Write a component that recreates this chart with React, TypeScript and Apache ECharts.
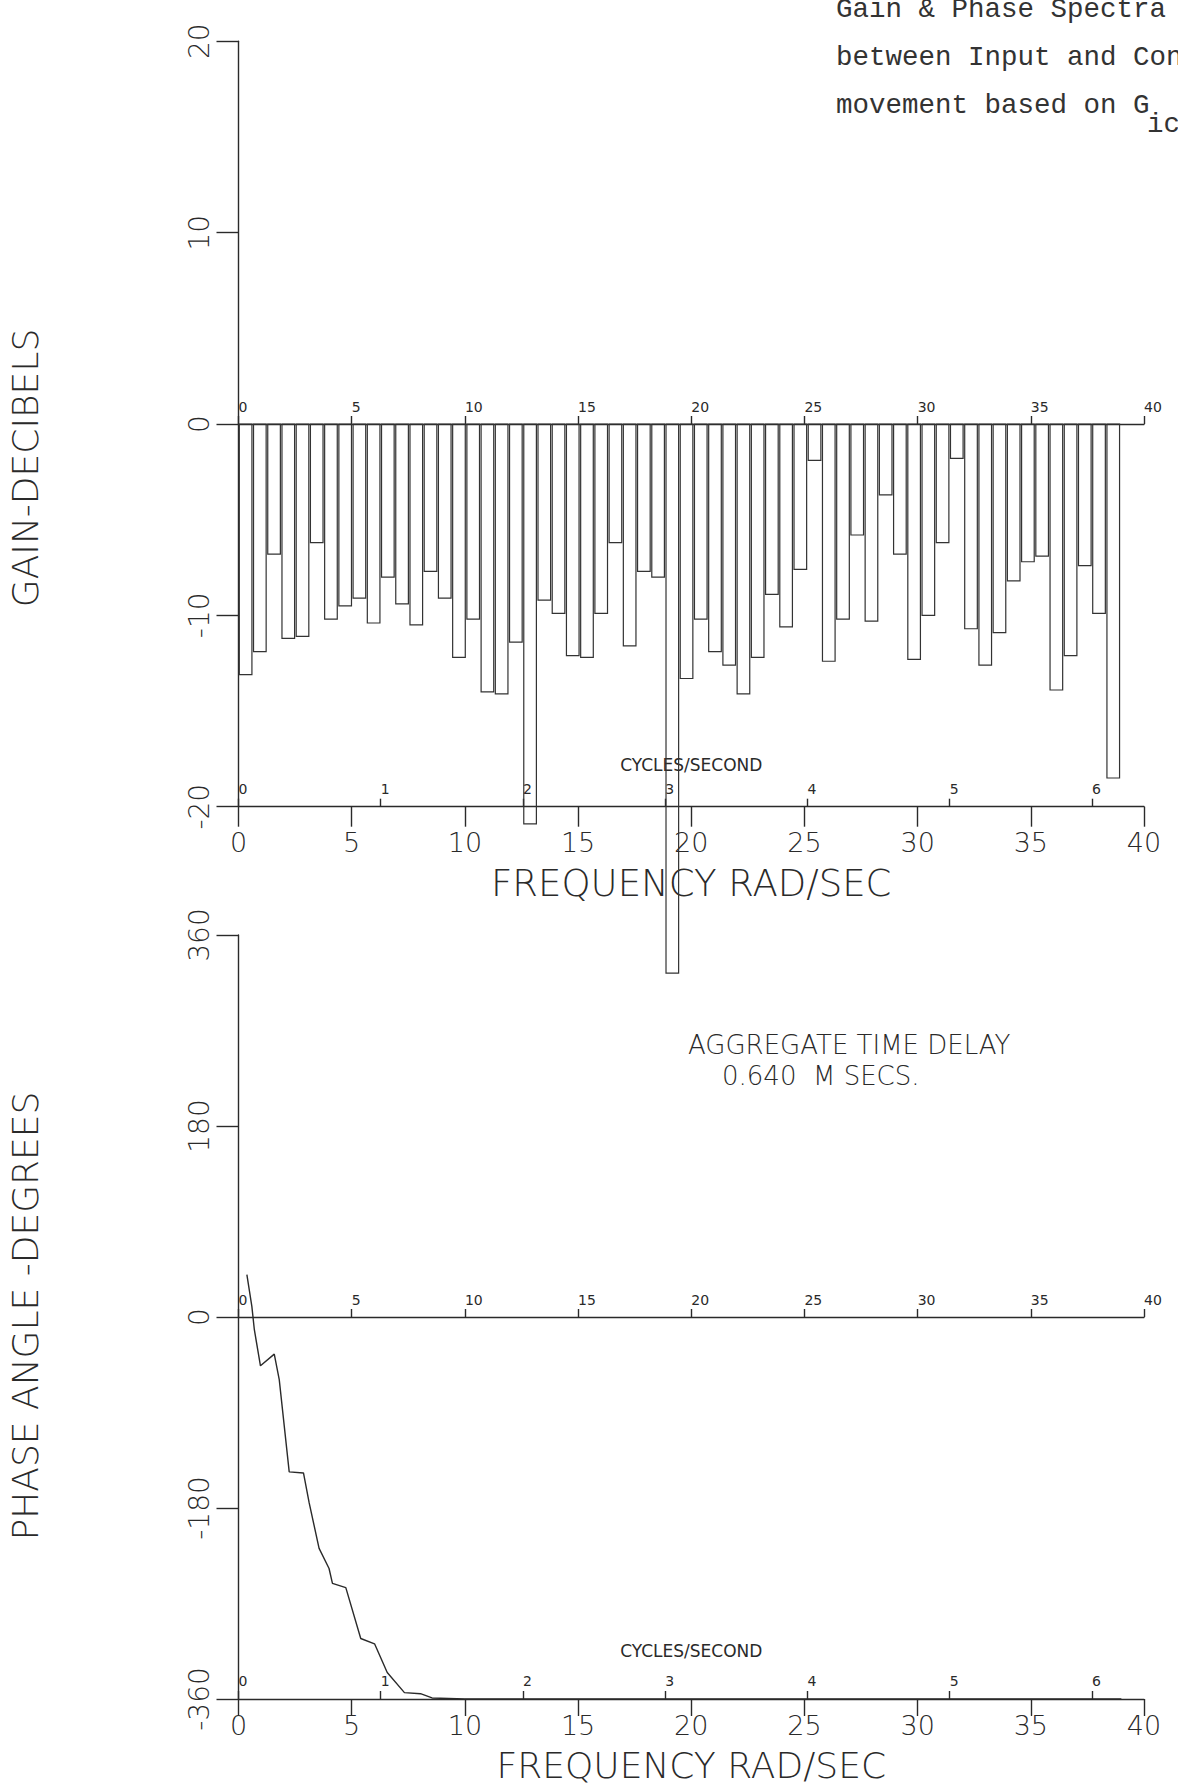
import React, { useEffect, useRef } from "react";
import * as echarts from "echarts";

// ---------- data ----------
const TWO_PI = 2 * Math.PI;
const BIN_HZ = 0.1; // each gain bar spans 0.1 Hz
const FREQ_MAX = 40; // rad/sec

// Gain (dB) per 0.1 Hz bin, starting at 0 Hz
const gainDb = [
  -13.1, -11.9, -6.8, -11.2, -11.1, -6.2, -10.2, -9.5, -9.1, -10.4,
  -8.0, -9.4, -10.5, -7.7, -9.1, -12.2, -10.2, -14.0, -14.1, -11.4,
  -20.9, -9.2, -9.9, -12.1, -12.2, -9.9, -6.2, -11.6, -7.7, -8.0,
  -28.7, -13.3, -10.2, -11.9, -12.6, -14.1, -12.2, -8.9, -10.6, -7.6,
  -1.9, -12.4, -10.2, -5.8, -10.3, -3.7, -6.8, -12.3, -10.0, -6.2,
  -1.8, -10.7, -12.6, -10.9, -8.2, -7.2, -6.9, -13.9, -12.1, -7.4,
  -9.9, -18.5,
];

// Phase curve (rad/sec, degrees)
const phaseFreq = [0.37, 0.59, 0.7, 0.97, 1.58, 1.8, 2.24, 2.87, 3.12, 3.56, 4.0, 4.15, 4.74, 5.4, 6.01, 6.57, 7.33, 8.04, 8.55, 10, 20, 30, 39];
const phaseDeg = [40, 10, -12, -46, -35, -59, -146, -147, -175, -218, -237, -251, -255, -303, -308, -335, -354, -355, -359, -360, -360, -360, -360];

const cycleTicks = [0, 1, 2, 3, 4, 5, 6];
const gainRange = [-20, 20, 10];
const phaseRange = [-360, 360, 180];

const TITLE_LINES = ["Gain & Phase Spectra", "between Input and Con", "movement based on G"];
const TITLE_SUB = "ic";
const DELAY_LINES = ["AGGREGATE TIME DELAY", "0.640  M SECS."];
const X_NAME = "FREQUENCY RAD/SEC";
const HZ_NAME = "CYCLES/SECOND";
const GAIN_NAME = "GAIN-DECIBELS";
const PHASE_NAME = "PHASE ANGLE -DEGREES";

// ---------- style ----------
const INK = "#2a2a2a";
const FONT = "'DejaVu Sans', sans-serif";
const MONO = "'Liberation Mono', 'DejaVu Sans Mono', monospace";
const LS = { color: INK, width: 1.4 };

const G0 = { top: 41.3, height: 765.4 };
const G1 = { top: 935, height: 764 };

function mainX(gridIndex: number, labelMargin: number, nameGap: number, tickLen: number, nameSize: number) {
  return {
    type: "value", gridIndex, min: 0, max: FREQ_MAX, interval: 5, position: "bottom",
    axisLine: { show: true, onZero: false, lineStyle: LS },
    axisTick: { show: true, inside: false, length: tickLen, lineStyle: LS },
    axisLabel: { show: true, margin: labelMargin, fontSize: 27, lineHeight: 32, color: INK, fontFamily: FONT, fontWeight: 200 },
    splitLine: { show: false },
    name: X_NAME, nameLocation: "middle", nameGap, nameMoveOverlap: false,
    nameTextStyle: { fontSize: nameSize, lineHeight: Math.round(nameSize * 1.2), color: INK, fontFamily: FONT, fontWeight: 200 },
  };
}
// axis drawn along the zero line (half way down the grid)
function zeroX(gridIndex: number, halfHeight: number) {
  return {
    type: "value", gridIndex, min: 0, max: FREQ_MAX, interval: 5, position: "top", offset: -halfHeight,
    axisLine: { show: true, onZero: false, lineStyle: LS },
    axisTick: { show: true, inside: false, length: 8, lineStyle: LS },
    axisLabel: { show: true, margin: 10, fontSize: 14, align: "left", color: INK, fontFamily: FONT },
    splitLine: { show: false },
  };
}
function hzX(gridIndex: number, nameGap: number) {
  return {
    type: "value", gridIndex, min: 0, max: FREQ_MAX / TWO_PI, position: "bottom",
    axisLine: { show: false, onZero: false },
    axisTick: { show: true, inside: true, length: 8, customValues: cycleTicks, lineStyle: LS },
    axisLabel: { show: true, inside: true, margin: 11, fontSize: 14, align: "left", customValues: cycleTicks, color: INK, fontFamily: FONT },
    splitLine: { show: false },
    name: HZ_NAME, nameLocation: "middle", nameGap, nameMoveOverlap: false,
    nameTextStyle: { fontSize: 17, color: INK, fontFamily: FONT },
  };
}
function yAx(gridIndex: number, r: number[]) {
  return {
    type: "value", gridIndex, min: r[0], max: r[1], interval: r[2], position: "left",
    axisLine: { show: true, onZero: false, lineStyle: LS },
    axisTick: { show: true, inside: false, length: 22, lineStyle: LS },
    axisLabel: { show: true, rotate: 90, margin: 25, fontSize: 28, color: INK, fontFamily: FONT, fontWeight: 200 },
    splitLine: { show: false },
  };
}

export default function App() {
  const ref = useRef<HTMLDivElement>(null);
  useEffect(() => {
    const chart = echarts.init(ref.current as HTMLDivElement, null, { renderer: "svg" });
    const bars = gainDb.map((v, i) => [i * BIN_HZ * TWO_PI, (i + 1) * BIN_HZ * TWO_PI, v]);
    const phase = phaseFreq.map((f, i) => [f, phaseDeg[i]]);
    const option: any = {
      animation: false,
      backgroundColor: "#fff",
      grid: [
        { left: 238.5, right: 34, top: G0.top, height: G0.height, containLabel: false, outerBoundsMode: "none" },
        { left: 238.5, right: 34, top: G1.top, height: G1.height, containLabel: false, outerBoundsMode: "none" },
      ],
      xAxis: [
        mainX(0, 20, 55, 20, 37), zeroX(0, G0.height / 2), hzX(0, -50),
        mainX(1, 10, 44.5, 17, 36), zeroX(1, G1.height / 2), hzX(1, -57),
      ],
      yAxis: [yAx(0, gainRange), yAx(1, phaseRange)],
      series: [
        {
          type: "custom", xAxisIndex: 0, yAxisIndex: 0, clip: false,
          encode: { x: [0, 1], y: 2 },
          data: bars,
          renderItem: (params: any, api: any) => {
            const a = api.coord([api.value(0), 0]);
            const b = api.coord([api.value(1), api.value(2)]);
            return {
              type: "rect",
              shape: { x: a[0] + 0.8, y: Math.min(a[1], b[1]), width: b[0] - a[0] - 1.6, height: Math.abs(b[1] - a[1]) },
              style: { fill: "none", stroke: "#333", lineWidth: 1.2 },
            };
          },
        },
        {
          type: "line", xAxisIndex: 3, yAxisIndex: 1, data: phase, showSymbol: false, symbol: "none",
          lineStyle: { color: INK, width: 1.4 }, clip: false,
        },
      ],
      graphic: [
        ...TITLE_LINES.map((t, i) => ({
          type: "text", x: 836, y: [9, 57, 105][i],
          style: { text: t, fontSize: 27.5, fontFamily: MONO, fill: "#333", align: "left", verticalAlign: "middle" },
        })),
        { type: "text", x: 1147, y: 124, style: { text: TITLE_SUB, fontSize: 27.5, fontFamily: MONO, fill: "#333", align: "left", verticalAlign: "middle" } },
        { type: "text", x: 25, y: 468, rotation: Math.PI / 2, style: { text: GAIN_NAME, fontSize: 36, fontFamily: FONT, fontWeight: 200, fill: INK, align: "center", verticalAlign: "middle" } },
        { type: "text", x: 25, y: 1316, rotation: Math.PI / 2, style: { text: PHASE_NAME, fontSize: 36, fontFamily: FONT, fontWeight: 200, fill: INK, align: "center", verticalAlign: "middle" } },
        { type: "text", x: 688, y: 1045, style: { text: DELAY_LINES[0], fontSize: 26, fontFamily: FONT, fontWeight: 200, fill: INK, align: "left", verticalAlign: "middle" } },
        { type: "text", x: 722, y: 1076, style: { text: DELAY_LINES[1], fontSize: 26, fontFamily: FONT, fontWeight: 200, fill: INK, align: "left", verticalAlign: "middle" } },
      ],
    };
    chart.setOption(option);
    return () => chart.dispose();
  }, []);
  return <div ref={ref} style={{ position: "absolute", left: 0, top: 0, width: 1178, height: 1788, background: "#fff" }} />;
}
